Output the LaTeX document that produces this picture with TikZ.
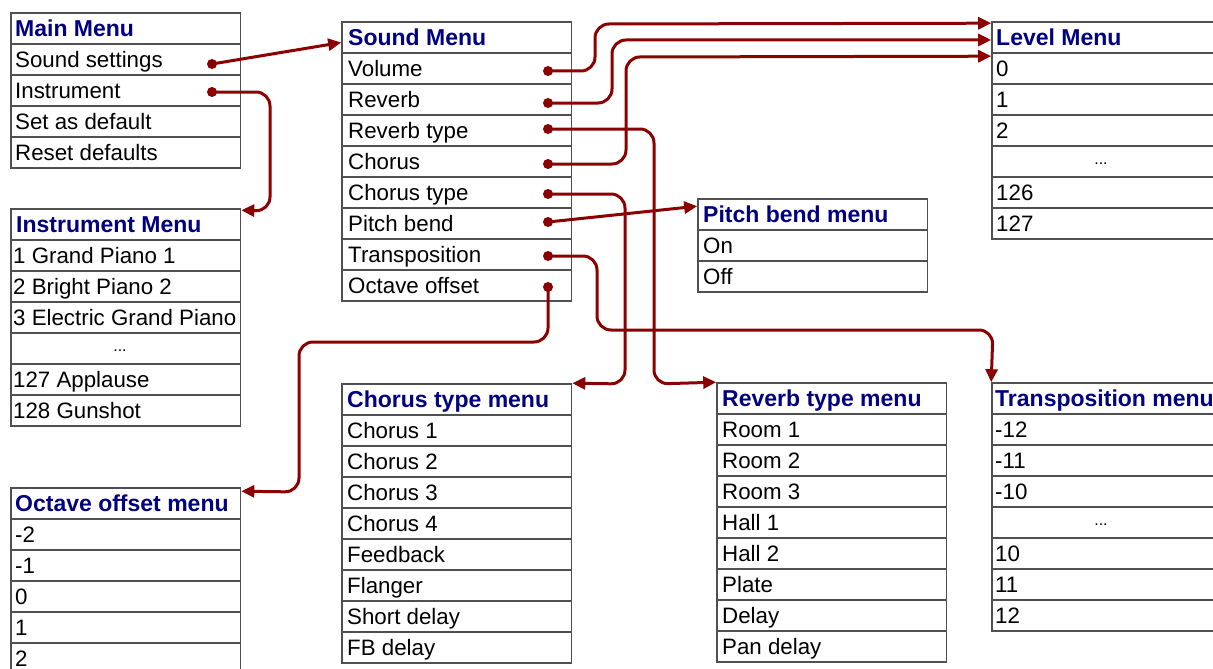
\documentclass[tikz,border=0pt]{standalone}
\usepackage{fontspec}
\setmainfont{Liberation Sans}
\usetikzlibrary{arrows.meta,calc}
\definecolor{hdrblue}{RGB}{0,0,128}
\definecolor{connred}{RGB}{139,0,0}
\definecolor{gridgray}{RGB}{80,80,80}
\tikzset{
  cell/.style={draw=gridgray, line width=1.6pt, rectangle, minimum width=229.5pt, minimum height=31pt, inner sep=0pt},
  txt/.style={inner sep=0pt, font=\fontsize{22.3}{26}\selectfont, text=black},
  hdr/.style={inner sep=0pt, font=\fontsize{23}{27}\selectfont\bfseries, text=hdrblue},
  dotsty/.style={inner sep=0pt, font=\fontsize{16}{18}\selectfont, text=black},
  pin/.style={circle, fill=connred, minimum size=10pt, inner sep=0pt},
  conn/.style={draw=connred, line width=3pt, rounded corners=14pt, -{Triangle[length=13pt,width=12pt]}},
}
% name, left, top, inset, style, text
\newcommand\mcell[6]{%
  \node[cell] (#1) at ({#2+114.75},{#3+15.5}) {};
  \node[#5, anchor=base west] (#1-t) at ({#2+#4},{#3+23.5}) {#6};}
% name, left, top
\newcommand\mdots[3]{%
  \node[cell] (#1) at ({#2+114.75},{#3+15.5}) {};
  \node[dotsty, anchor=base] (#1-t) at ({#2+109},{#3+18.5}) {...};}
\begin{document}
\begin{tikzpicture}[x=1pt,y=-1pt]
\useasboundingbox (0,0) rectangle (1213,669);
\fill[white] (0,0) rectangle (1213,669);

% Main Menu
\mcell{mm-0}{11}{13}{4}{hdr}{Main Menu}
\foreach \t [count=\i] in {Sound settings, Instrument, Set as default, Reset defaults}
  {\mcell{mm-\i}{11}{13+31*\i}{4}{txt}{\t}}

% Instrument Menu
\mcell{im-0}{11}{209}{5}{hdr}{Instrument Menu}
\foreach \t [count=\i] in {1 Grand Piano 1, 2 Bright Piano 2, 3 Electric Grand Piano}
  {\mcell{im-\i}{11}{209+31*\i}{2}{txt}{\t}}
\mdots{im-4}{11}{209+124}
\foreach \t [count=\i from 5] in {127 Applause, 128 Gunshot}
  {\mcell{im-\i}{11}{209+31*\i}{2}{txt}{\t}}

% Sound Menu
\mcell{sm-0}{342}{22}{6}{hdr}{Sound Menu}
\foreach \t [count=\i] in {Volume, Reverb, Reverb type, Chorus, Chorus type, Pitch bend, Transposition, Octave offset}
  {\mcell{sm-\i}{342}{22+31*\i}{6}{txt}{\t}}

% Level Menu
\mcell{lv-0}{992}{22}{4}{hdr}{Level Menu}
\foreach \t [count=\i] in {0, 1, 2}
  {\mcell{lv-\i}{992}{22+31*\i}{4}{txt}{\t}}
\mdots{lv-4}{992}{22+124}
\foreach \t [count=\i from 5] in {126, 127}
  {\mcell{lv-\i}{992}{22+31*\i}{4}{txt}{\t}}

% Pitch bend menu
\mcell{pb-0}{698}{199}{5}{hdr}{Pitch bend menu}
\foreach \t [count=\i] in {On, Off}
  {\mcell{pb-\i}{698}{199+31*\i}{5}{txt}{\t}}

% Chorus type menu
\mcell{ct-0}{342}{384}{5}{hdr}{Chorus type menu}
\foreach \t [count=\i] in {Chorus 1, Chorus 2, Chorus 3, Chorus 4, Feedback, Flanger, Short delay, FB delay}
  {\mcell{ct-\i}{342}{384+31*\i}{5}{txt}{\t}}

% Reverb type menu
\mcell{rt-0}{717}{383}{5}{hdr}{Reverb type menu}
\foreach \t [count=\i] in {Room 1, Room 2, Room 3, Hall 1, Hall 2, Plate, Delay, Pan delay}
  {\mcell{rt-\i}{717}{383+31*\i}{5}{txt}{\t}}

% Transposition menu
\mcell{tr-0}{992}{383}{3}{hdr}{Transposition menu}
\foreach \t [count=\i] in {-12, -11, -10}
  {\mcell{tr-\i}{992}{383+31*\i}{3}{txt}{\t}}
\mdots{tr-4}{992}{383+124}
\foreach \t [count=\i from 5] in {10, 11, 12}
  {\mcell{tr-\i}{992}{383+31*\i}{3}{txt}{\t}}

% Octave offset menu
\mcell{oo-0}{11}{488}{4}{hdr}{Octave offset menu}
\foreach \t [count=\i] in {-2, -1, 0, 1, 2}
  {\mcell{oo-\i}{11}{488+31*\i}{4}{txt}{\t}}

% pins
\node[pin] (p-ss)  at (212,64)  {};
\node[pin] (p-ins) at (212,92)  {};
\node[pin] (p-vol) at (548,71)  {};
\node[pin] (p-rev) at (548,103) {};
\node[pin] (p-rt)  at (548,129) {};
\node[pin] (p-ch)  at (548,164) {};
\node[pin] (p-ct)  at (548,194) {};
\node[pin] (p-pb)  at (548,222) {};
\node[pin] (p-tr)  at (548,256) {};
\node[pin] (p-oo)  at (548,287) {};

% connectors
\draw[conn] (p-ss.center) -- ([yshift=-5pt]sm-0.west);
\draw[conn] (p-ins.center) -- (270,92) -- (270,211) -- ([yshift=-2pt]im-0.north east);
\draw[conn] (p-vol.center) -- (595,71) -- (595,24) -- ([yshift=-2pt]lv-0.north west);
\draw[conn] (p-rev.center) -- (612,103) -- (612,40) -- ([yshift=-2.5pt]lv-0.west);
\draw[conn] (p-ch.center) -- (626,164) -- (626,57) -- ([yshift=-4pt]lv-1.north west);
\draw[conn] (p-rt.center) -- (654,129) -- (654,384) -- (rt-0.north west);
\draw[conn] (p-ct.center) -- (625,194) -- (625,384) -- (ct-0.north east);
\draw[conn] (p-pb.center) -- ([yshift=-8pt]pb-0.north west);
\draw[conn] (p-tr.center) -- (597,256) -- (597,330) -- (993,330) -- (tr-0.north west);
\draw[conn] (p-oo.center) -- (548,342) -- (299,342) -- (299,492) -- ([yshift=-4pt]oo-0.north east);
\end{tikzpicture}
\end{document}
